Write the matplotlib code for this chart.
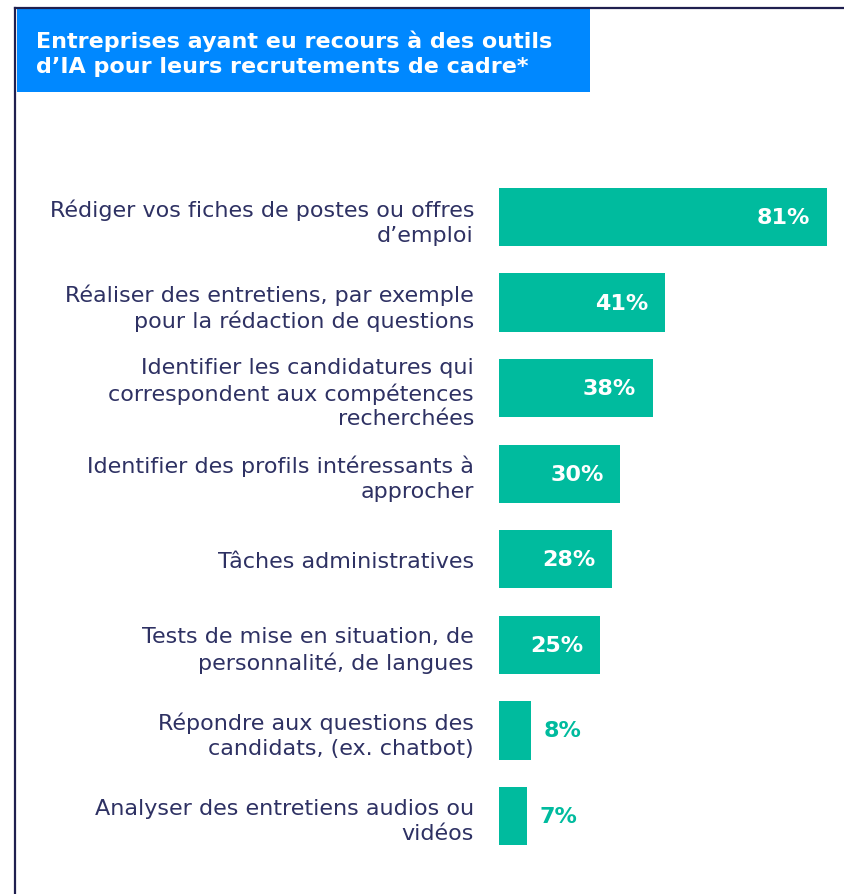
import matplotlib.pyplot as plt
from matplotlib.patches import Rectangle
from matplotlib.lines import Line2D

# données
categories = [
    "Rédiger vos fiches de postes ou offres\nd\u2019emploi",
    "Réaliser des entretiens, par exemple\npour la rédaction de questions",
    "Identifier les candidatures qui\ncorrespondent aux compétences\nrecherchées",
    "Identifier des profils intéressants à\napprocher",
    "Tâches administratives",
    "Tests de mise en situation, de\npersonnalité, de langues",
    "Répondre aux questions des\ncandidats, (ex. chatbot)",
    "Analyser des entretiens audios ou\nvidéos",
]
values = [81, 41, 38, 30, 28, 25, 8, 7]
title = "Entreprises ayant eu recours à des outils\nd\u2019IA pour leurs recrutements de cadre*"

bar_color = "#00BB9E"
text_color = "#2E3163"
frame_color = "#1F1F4F"
title_bg = "#0088FF"

W, H = 844, 895
fig = plt.figure(figsize=(W / 100, H / 100), dpi=100)
plt.rcParams['font.family'] = ['DejaVu Sans']

# cadre : ligne gauche et ligne du haut
fig.add_artist(Line2D([15 / W, 15 / W], [0, 1 - 9 / H], color=frame_color, lw=1.6))
fig.add_artist(Line2D([15 / W, 1], [1 - 9 / H, 1 - 9 / H], color=frame_color, lw=1.6))

# bandeau du titre
fig.add_artist(Rectangle((17 / W, 1 - 93 / H), (590 - 17) / W, (93 - 10) / H,
                         transform=fig.transFigure, color=title_bg, lw=0))
fig.text(36 / W, 1 - 54 / H, title, color="white", fontsize=16, fontweight="bold",
         va="center", ha="left", linespacing=1.3)

# axe des barres
x0, x1 = 499, 827
y_top, y_bot = 218 - 42.8, 817 + 42.8
ax = fig.add_axes([x0 / W, 1 - y_bot / H, (x1 - x0) / W, (y_bot - y_top) / H])
pos = list(range(len(values)))
ax.barh(pos, values, height=0.68, color=bar_color)
ax.set_xlim(0, max(values))
ax.set_ylim(len(values) - 0.5, -0.5)
ax.set_xticks([])
ax.set_yticks(pos)
ax.set_yticklabels(categories, fontsize=16, color=text_color, linespacing=1.3)
ax.tick_params(axis="y", length=0, pad=18)
for s in ax.spines.values():
    s.set_visible(False)

for p, v in zip(pos, values):
    if v >= 20:
        ax.annotate(f"{v}%", (v, p), xytext=(-12, 0), textcoords="offset points",
                    ha="right", va="center", color="white", fontsize=16, fontweight="bold")
    else:
        ax.annotate(f"{v}%", (v, p), xytext=(9, 0), textcoords="offset points",
                    ha="left", va="center", color=bar_color, fontsize=16, fontweight="bold")

fig.savefig("out.png", dpi=100)
